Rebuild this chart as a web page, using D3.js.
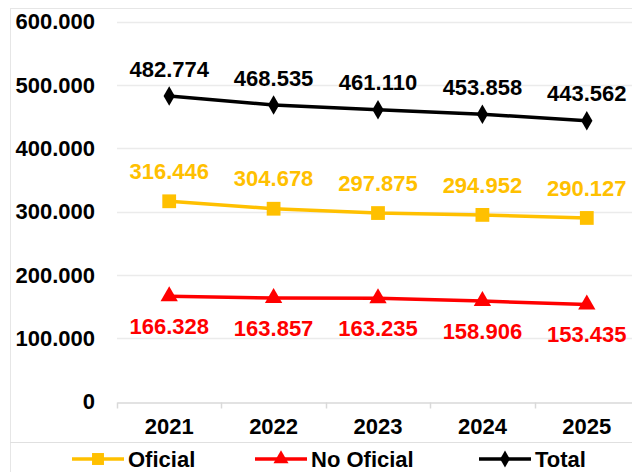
<!DOCTYPE html>
<html>
<head>
<meta charset="utf-8">
<script src="https://cdn.jsdelivr.net/npm/d3@7"></script>
<style>
  body { margin: 0; background: #fff; }
  text { font-family: "Liberation Sans", Arial, sans-serif; font-weight: bold; }
</style>
</head>
<body>
<script>
const width  = 632;
const height = 472;

const years      = ['2021', '2022', '2023', '2024', '2025'];
const oficial    = [316446, 304678, 297875, 294952, 290127];
const noOficial  = [166328, 163857, 163235, 158906, 153435];
const total      = [482774, 468535, 461110, 453858, 443562];
const yTicks     = [0, 100000, 200000, 300000, 400000, 500000, 600000];

const series = [
  {name: 'Oficial',    values: oficial,   color: '#FFC000', symbol: d3.symbolSquare,   size: 190, dy: -30},
  {name: 'No Oficial', values: noOficial, color: '#FF0000', symbol: d3.symbolTriangle, size: 130, dy: 30},
  {name: 'Total',      values: total,     color: '#000000', symbol: d3.symbolDiamond,  size: 110, dy: -27}
];

// spanish style thousands separator
const fmt = v => v === 0 ? '0' : Math.floor(v / 1000) + '.' + d3.format('03')(v % 1000);

const svg = d3.select('body').append('svg')
  .attr('width', width)
  .attr('height', height);

// chart frame
svg.append('rect')
  .attr('x', 10.5).attr('y', 8.5)
  .attr('width', 640).attr('height', 480)
  .attr('fill', 'none').attr('stroke', '#e6e6e6');
svg.append('line')
  .attr('x1', 10).attr('x2', width)
  .attr('y1', 442.5).attr('y2', 442.5)
  .attr('stroke', '#e0e0e0');

const x = d3.scaleBand().domain(years).range([117, 639]);
const y = d3.scaleLinear().domain([0, 600000]).range([401.7, 21.7]);

// gridlines
svg.append('g')
  .selectAll('line')
  .data(yTicks.slice(1))
  .enter().append('line')
  .attr('x1', 117).attr('x2', width)
  .attr('y1', d => Math.round(y(d)) + 0.5)
  .attr('y2', d => Math.round(y(d)) + 0.5)
  .attr('stroke', '#ebebeb').attr('stroke-width', 1.5);

// y labels
svg.append('g')
  .selectAll('text')
  .data(yTicks)
  .enter().append('text')
  .attr('x', 95)
  .attr('y', d => y(d))
  .attr('dy', '0.35em')
  .attr('text-anchor', 'end')
  .style('font-size', '22px')
  .text(fmt);

// x axis
const xAxis = svg.append('g')
  .attr('transform', 'translate(0,' + (Math.round(y(0)) + 0.5) + ')')
  .call(d3.axisBottom(x).tickSize(0).tickPadding(16).tickSizeOuter(0));
xAxis.select('.domain').attr('stroke', '#d9d9d9').attr('stroke-width', 1.5);
xAxis.selectAll('text')
  .style('font-size', '22px')
  .style('font-family', '"Liberation Sans", Arial, sans-serif')
  .style('font-weight', 'bold')
  .attr('fill', '#000');
xAxis.selectAll('.tk')
  .data(years)
  .enter().append('line')
  .attr('class', 'tk')
  .attr('x1', d => Math.round(x(d)) + 0.5)
  .attr('x2', d => Math.round(x(d)) + 0.5)
  .attr('y1', 0).attr('y2', 6)
  .attr('stroke', '#d9d9d9').attr('stroke-width', 1.5);

const cx = d => x(d) + x.bandwidth() / 2;

const line = d3.line()
  .x((d, i) => cx(years[i]))
  .y(d => y(d));

series.forEach(s => {
  const g = svg.append('g');
  g.append('path')
    .datum(s.values)
    .attr('d', line)
    .attr('fill', 'none')
    .attr('stroke', s.color)
    .attr('stroke-width', 3.5);

  g.selectAll('.m')
    .data(s.values)
    .enter().append('path')
    .attr('class', 'm')
    .attr('transform', (d, i) => 'translate(' + cx(years[i]) + ',' + y(d) + ')')
    .attr('d', d3.symbol().type(s.symbol).size(s.size))
    .attr('fill', s.color);

  g.selectAll('.lbl')
    .data(s.values)
    .enter().append('text')
    .attr('class', 'lbl')
    .attr('x', (d, i) => cx(years[i]))
    .attr('y', d => y(d) + s.dy)
    .attr('dy', '0.35em')
    .attr('text-anchor', 'middle')
    .attr('fill', s.color)
    .style('font-size', '22px')
    .text(fmt);
});

// legend
const legendX = [72, 255, 479];
const legend = svg.append('g')
  .selectAll('g')
  .data(series)
  .enter().append('g')
  .attr('transform', (d, i) => 'translate(' + legendX[i] + ',459)');

legend.append('line')
  .attr('x1', 0).attr('x2', 52)
  .attr('stroke', d => d.color)
  .attr('stroke-width', 3.5);
legend.append('path')
  .attr('transform', 'translate(26,0)')
  .attr('d', d => d3.symbol().type(d.symbol).size(d.size * 0.75)())
  .attr('fill', d => d.color);
legend.append('text')
  .attr('x', 56)
  .attr('dy', '0.35em')
  .style('font-size', '22px')
  .attr('fill', '#000')
  .text(d => d.name);
</script>
</body>
</html>
